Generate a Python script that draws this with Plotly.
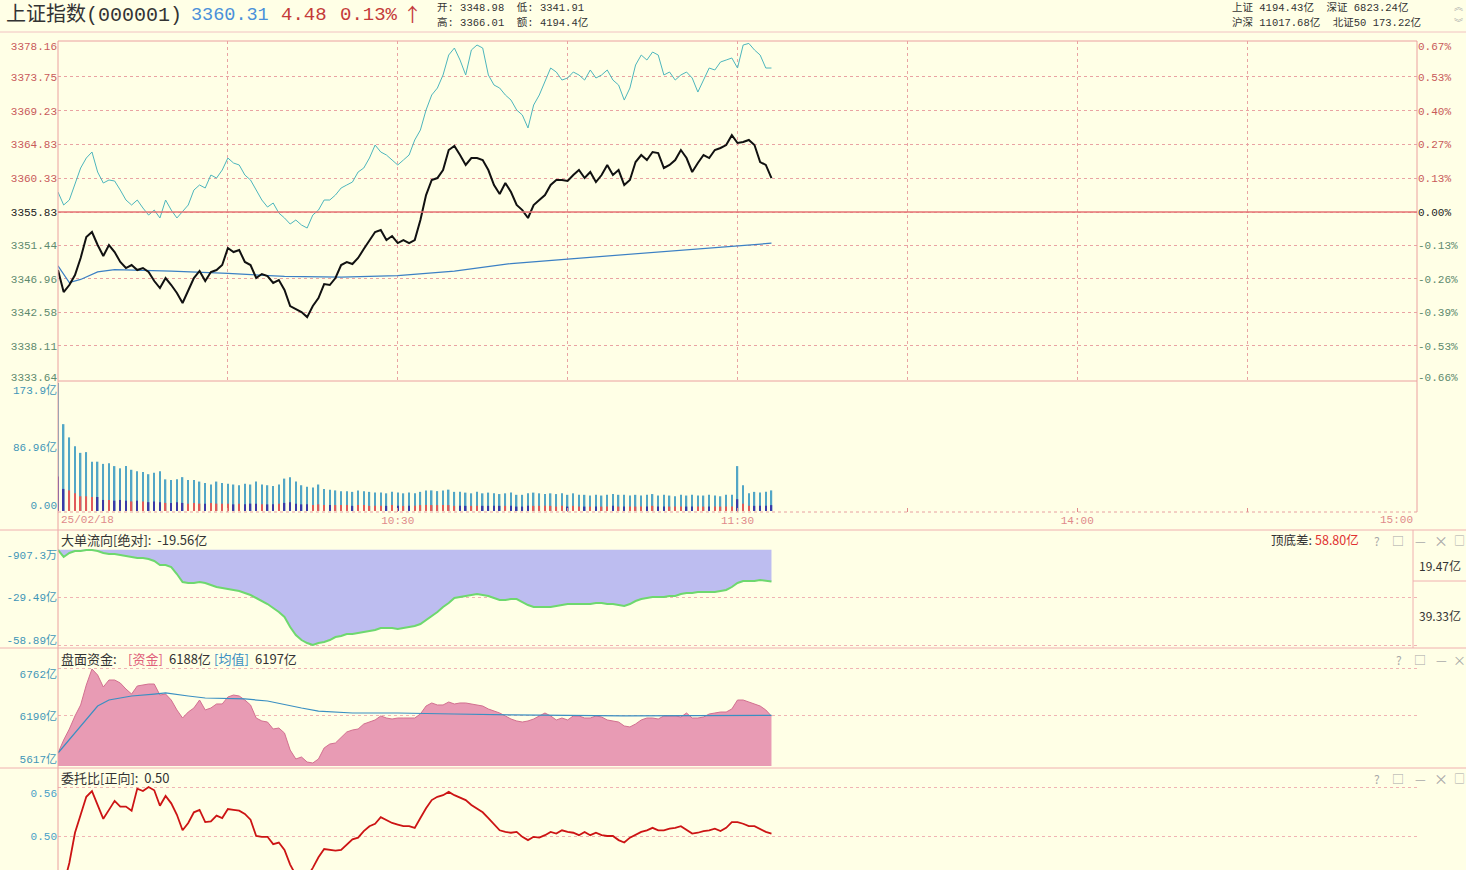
import plotly.graph_objects as go

W, H = 1466, 870
BG = '#FFFFE6'
MONO = 'Liberation Mono, Noto Sans CJK SC, monospace'
CJK = 'Noto Sans CJK SC, Liberation Mono, sans-serif'

# ------------------------------------------------------------------ data
prev_close = 3355.83

index_close = [
    3348.15, 3345.23, 3346.16, 3347.49, 3349.74, 3352.52, 3353.18, 3351.46, 3350.00, 3351.46,
    3350.53, 3349.21, 3348.41, 3348.81, 3348.15, 3348.41, 3347.88, 3346.69, 3345.76, 3347.09,
    3346.16, 3345.10, 3343.78, 3345.50, 3347.09, 3348.02, 3346.69, 3347.88, 3348.15, 3348.81,
    3351.06, 3350.53, 3350.80, 3349.21, 3348.81, 3347.09, 3347.62, 3347.35, 3346.43, 3346.82,
    3345.50, 3343.38, 3342.98, 3342.58, 3341.91, 3343.38, 3344.44, 3346.29, 3346.16, 3347.09,
    3348.81, 3349.21, 3348.94, 3349.74, 3350.93, 3352.12, 3353.18, 3353.45, 3352.12, 3352.65,
    3351.72, 3352.12, 3351.72, 3352.12, 3354.77, 3358.08, 3360.07, 3360.33, 3361.39, 3364.04,
    3364.57, 3363.38, 3362.06, 3362.98, 3362.98, 3362.72, 3361.39, 3359.41, 3358.21, 3359.67,
    3358.48, 3356.76, 3356.09, 3355.04, 3356.76, 3357.42, 3358.08, 3359.41, 3360.07, 3360.07,
    3359.94, 3360.73, 3361.39, 3360.33, 3361.13, 3359.80, 3360.73, 3362.06, 3360.73, 3361.39,
    3359.41, 3360.07, 3362.45, 3363.38, 3362.72, 3363.78, 3363.64, 3361.66, 3362.06, 3362.72,
    3364.04, 3362.98, 3361.13, 3362.32, 3363.38, 3362.98, 3364.04, 3364.31, 3364.70, 3366.01,
    3364.97, 3365.10, 3365.37, 3364.70, 3362.45, 3362.06, 3360.31]

leading_index = [
    3358.48, 3356.76, 3357.42, 3359.41, 3361.66, 3362.98, 3363.78, 3361.13, 3359.67, 3360.07,
    3359.94, 3358.74, 3357.42, 3356.76, 3357.42, 3356.36, 3355.43, 3356.09, 3355.04, 3357.42,
    3356.09, 3355.04, 3355.83, 3356.76, 3358.74, 3359.41, 3359.01, 3360.73, 3360.33, 3361.39,
    3362.98, 3362.32, 3362.06, 3360.73, 3360.07, 3358.74, 3357.42, 3356.49, 3357.02, 3355.70,
    3355.04, 3354.24, 3354.77, 3354.11, 3353.71, 3355.43, 3356.09, 3357.42, 3357.42, 3358.08,
    3359.01, 3359.41, 3359.80, 3361.13, 3361.66, 3362.98, 3364.70, 3363.78, 3363.38, 3362.72,
    3362.06, 3362.72, 3363.38, 3365.37, 3366.69, 3369.34, 3371.33, 3372.25, 3373.98, 3376.62,
    3377.55, 3375.96, 3373.98, 3377.29, 3377.95, 3377.55, 3373.98, 3372.65, 3372.25, 3371.33,
    3370.66, 3369.34, 3368.68, 3366.96, 3370.00, 3371.33, 3373.05, 3374.90, 3374.37, 3373.31,
    3373.58, 3374.37, 3373.98, 3373.31, 3374.64, 3373.58, 3373.98, 3374.64, 3373.31, 3372.65,
    3370.66, 3372.25, 3375.30, 3376.62, 3375.96, 3377.02, 3376.62, 3373.98, 3374.37, 3373.31,
    3373.98, 3374.37, 3373.58, 3371.72, 3373.31, 3374.90, 3374.64, 3375.70, 3375.96, 3376.23,
    3374.90, 3377.95, 3378.16, 3377.29, 3376.62, 3374.90, 3374.90]

avg_minutes = [0, 2, 4, 7, 10, 20, 30, 40, 50, 60, 70, 80, 90, 100, 110, 120, 126]
avg_price = [3348.70, 3346.50, 3346.90, 3347.90, 3348.20, 3348.00, 3347.70, 3347.30,
             3347.20, 3347.40, 3348.00, 3349.00, 3349.60, 3350.20, 3350.80, 3351.40, 3351.70]

volume = [
    173.9, 118, 100, 88, 79, 80, 67, 67, 64, 65,
    61, 58, 61, 56, 54, 53, 50, 52, 54, 43,
    42, 43, 46, 42, 42, 40, 38, 36, 40, 38,
    37, 36, 35, 37, 36, 40, 36, 35, 34, 36,
    44, 46, 40, 35, 33, 32, 36, 30, 29, 28,
    27, 27, 26, 28, 27, 26, 25, 25, 24, 26,
    25, 24, 25, 24, 26, 28, 28, 27, 28, 29,
    26, 26, 25, 24, 26, 24, 25, 24, 23, 24,
    25, 22, 22, 24, 25, 24, 23, 24, 23, 24,
    22, 24, 22, 22, 21, 22, 21, 22, 23, 22,
    22, 21, 22, 21, 22, 23, 21, 22, 21, 20,
    22, 21, 22, 21, 21, 22, 21, 20, 22, 22,
    61, 35, 24, 26, 25, 26, 28]

volume_part = [
    47, 30, 28, 24, 20, 20, 19, 19, 15, 15,
    14, 15, 14, 13, 14, 13, 12, 13, 12, 11,
    11, 12, 11, 10, 11, 10, 10, 11, 10, 10,
    10, 9, 10, 9, 10, 10, 9, 9, 9, 10,
    11, 12, 10, 9, 9, 8, 9, 8, 8, 8,
    8, 8, 7, 8, 8, 7, 7, 7, 7, 8,
    7, 7, 7, 7, 8, 8, 8, 8, 8, 8,
    7, 7, 7, 7, 7, 7, 7, 7, 7, 7,
    7, 6, 6, 7, 7, 7, 7, 7, 6, 7,
    6, 7, 6, 6, 6, 6, 6, 6, 7, 6,
    6, 6, 6, 6, 6, 7, 6, 6, 6, 6,
    6, 6, 6, 6, 6, 6, 6, 6, 6, 6,
    16, 10, 7, 7, 7, 7, 8]

big_order_flow = [
    -0.09, -4.42, -1.95, -0.71, -0.71, -0.09, -0.09, -0.71, -1.95, -2.57,
    -2.57, -3.19, -3.80, -4.42, -5.04, -5.04, -5.66, -6.90, -9.38, -9.38,
    -10.61, -14.95, -19.90, -20.52, -20.52, -19.90, -20.52, -21.76, -23.00, -23.61,
    -24.23, -24.85, -25.47, -26.71, -27.95, -29.80, -31.66, -33.52, -35.99, -38.47,
    -41.56, -47.75, -52.71, -55.80, -57.66, -58.89, -57.66, -57.04, -55.80, -53.94,
    -53.32, -52.09, -52.09, -51.47, -50.85, -50.23, -49.61, -48.37, -48.37, -48.37,
    -48.99, -48.37, -47.75, -47.13, -45.90, -43.42, -40.94, -38.47, -35.37, -32.90,
    -29.80, -29.18, -28.56, -27.95, -27.33, -27.95, -28.56, -29.80, -31.04, -31.04,
    -30.42, -30.42, -32.28, -34.14, -35.37, -35.37, -35.37, -35.37, -34.75, -34.14,
    -33.52, -33.52, -33.52, -33.52, -33.52, -32.90, -32.90, -33.52, -33.52, -34.14,
    -34.75, -33.52, -31.66, -30.42, -29.80, -29.18, -29.18, -29.18, -28.56, -28.56,
    -27.33, -26.71, -26.71, -26.09, -26.09, -26.09, -26.09, -25.47, -24.85, -23.00,
    -20.52, -19.28, -19.28, -19.28, -18.66, -19.28, -19.56]

capital = [
    5739, 5897, 6031, 6190, 6324, 6567, 6762, 6689, 6543, 6628,
    6628, 6591, 6518, 6457, 6555, 6567, 6579, 6579, 6445, 6457,
    6384, 6263, 6165, 6238, 6287, 6384, 6263, 6287, 6336, 6336,
    6421, 6445, 6433, 6384, 6324, 6165, 6129, 6116, 6031, 6043,
    5982, 5775, 5666, 5690, 5629, 5617, 5666, 5800, 5848, 5861,
    5922, 5995, 6019, 6031, 6092, 6116, 6141, 6190, 6165, 6153,
    6165, 6165, 6165, 6165, 6214, 6311, 6348, 6324, 6324, 6360,
    6336, 6348, 6348, 6336, 6324, 6311, 6275, 6250, 6226, 6190,
    6153, 6129, 6116, 6129, 6153, 6190, 6226, 6190, 6141, 6165,
    6141, 6190, 6190, 6165, 6165, 6190, 6177, 6141, 6129, 6116,
    6068, 6056, 6092, 6141, 6165, 6165, 6153, 6190, 6190, 6190,
    6177, 6226, 6165, 6165, 6177, 6214, 6226, 6238, 6238, 6275,
    6384, 6384, 6360, 6336, 6311, 6263, 6188]

capital_avg_minutes = [0, 3, 7, 9, 13, 17, 19, 23, 26, 33, 37, 43, 46, 52, 60, 70, 80, 100, 113, 126]
capital_avg = [5739, 5982, 6311, 6384, 6433, 6457, 6470, 6433, 6409, 6397,
               6372, 6287, 6250, 6226, 6226, 6214, 6202, 6190, 6190, 6197]

order_ratio = [
    0.420, 0.440, 0.467, 0.504, 0.526, 0.548, 0.555, 0.537, 0.521, 0.532,
    0.543, 0.536, 0.536, 0.531, 0.558, 0.555, 0.560, 0.556, 0.537, 0.549,
    0.540, 0.526, 0.507, 0.516, 0.529, 0.532, 0.517, 0.518, 0.525, 0.522,
    0.533, 0.532, 0.531, 0.527, 0.520, 0.500, 0.499, 0.499, 0.490, 0.492,
    0.483, 0.465, 0.452, 0.446, 0.450, 0.461, 0.474, 0.484, 0.483, 0.482,
    0.483, 0.490, 0.496, 0.498, 0.506, 0.512, 0.515, 0.523, 0.520, 0.516,
    0.514, 0.512, 0.512, 0.510, 0.522, 0.534, 0.544, 0.548, 0.550, 0.554,
    0.550, 0.547, 0.544, 0.538, 0.534, 0.529, 0.522, 0.514, 0.507, 0.505,
    0.504, 0.505, 0.499, 0.495, 0.499, 0.498, 0.501, 0.505, 0.503, 0.507,
    0.505, 0.504, 0.501, 0.505, 0.501, 0.504, 0.501, 0.500, 0.500, 0.495,
    0.492, 0.498, 0.501, 0.505, 0.507, 0.510, 0.507, 0.507, 0.509, 0.510,
    0.512, 0.507, 0.503, 0.504, 0.506, 0.507, 0.509, 0.506, 0.510, 0.517,
    0.517, 0.515, 0.512, 0.512, 0.509, 0.505, 0.503]

price_ticks = [3378.16, 3373.75, 3369.23, 3364.83, 3360.33, 3355.83,
               3351.44, 3346.96, 3342.58, 3338.11, 3333.64]
price_labels = ['3378.16', '3373.75', '3369.23', '3364.83', '3360.33', '3355.83',
                '3351.44', '3346.96', '3342.58', '3338.11', '3333.64']
pct_labels = ['0.67%', '0.53%', '0.40%', '0.27%', '0.13%', '0.00%',
              '-0.13%', '-0.26%', '-0.39%', '-0.53%', '-0.66%']
vol_ticks = [0, 86.96, 173.9]
vol_labels = ['0.00', '86.96亿', '173.9亿']
flow_ticks = [-0.09073, -29.49, -58.89]
flow_labels = ['-907.3万', '-29.49亿', '-58.89亿']
cap_ticks = [6762, 6190, 5617]
cap_labels = ['6762亿', '6190亿', '5617亿']
ratio_ticks = [0.56, 0.50]
ratio_labels = ['0.56', '0.50']
time_ticks = [30, 60, 90, 120, 150, 180, 210]
time_labels = ['', '10:30', '', '11:30', '', '14:00', '']

minutes = list(range(len(index_close)))

# ------------------------------------------------------------------ styling helpers
UP, FLAT, DOWN = '#C85A5A', '#222222', '#5E8A6E'
GRID = '#E9A3A3'
GRID2 = '#F0B4B4'
BORDER = '#EBA0A0'
TEAL = '#3F96B8'
DASH = '3px,3px'


def cspan(text, color):
    return f'<span style="color:{color}">{text}</span>'


def tone(v):
    if abs(v - prev_close) < 1e-6:
        return FLAT
    return UP if v > prev_close else DOWN


left_text = [cspan(t, tone(v)) for t, v in zip(price_labels, price_ticks)]
right_text = [cspan(t, tone(v)) for t, v in zip(pct_labels, price_ticks)]

bar_colors = ['#E05A5A' if i > 0 and index_close[i] >= index_close[i - 1] else '#3A3AA8'
              for i in range(len(index_close))]
bar_colors[0] = '#3A3AA8'


def dom(top, bottom):
    return [1 - bottom / H, 1 - top / H]


XD = [58 / W, 1417 / W]
PR = [3333.45, 3378.48]
VR = [-1.36, 175.26]
FR = [-59.51, 1.15]
CR = [5580.5, 6835]
RR = [0.45838, 0.56857]

fig = go.Figure()

# main price panel
fig.add_trace(go.Scatter(x=minutes, y=leading_index, mode='lines',
                         line=dict(color='#4DB6BD', width=1), xaxis='x', yaxis='y'))
fig.add_trace(go.Scatter(x=avg_minutes, y=avg_price, mode='lines',
                         line=dict(color='#3C80C4', width=1.2), xaxis='x', yaxis='y'))
fig.add_trace(go.Scatter(x=minutes, y=index_close, mode='lines',
                         line=dict(color='#111111', width=2), xaxis='x', yaxis='y'))
# invisible anchor so the right-hand percentage axis is drawn
fig.add_trace(go.Scatter(x=[0], y=[prev_close], mode='markers', marker=dict(opacity=0),
                         xaxis='x', yaxis='y2', hoverinfo='skip'))

# volume panel
fig.add_trace(go.Bar(x=minutes, y=volume, width=0.26, marker=dict(color='#52A6C6', line=dict(width=0)),
                     xaxis='x2', yaxis='y3'))
fig.add_trace(go.Bar(x=minutes, y=volume_part, width=0.26, marker=dict(color=bar_colors, line=dict(width=0)),
                     xaxis='x2', yaxis='y3'))

# big-order flow panel
fig.add_trace(go.Scatter(x=minutes, y=big_order_flow, mode='lines', fill='tozeroy',
                         fillcolor='#BDBDF0', line=dict(color='#6ED86E', width=2),
                         xaxis='x3', yaxis='y4'))

# capital panel
fig.add_trace(go.Scatter(x=minutes, y=capital, mode='lines', fill='tozeroy',
                         fillcolor='#E89BB4', line=dict(color='#D27090', width=1),
                         xaxis='x4', yaxis='y5'))
fig.add_trace(go.Scatter(x=capital_avg_minutes, y=capital_avg, mode='lines',
                         line=dict(color='#3A8FC2', width=1.2), xaxis='x4', yaxis='y5'))

# order ratio panel
fig.add_trace(go.Scatter(x=minutes, y=order_ratio, mode='lines',
                         line=dict(color='#CC1414', width=1.8), xaxis='x5', yaxis='y6'))

tickfont = dict(family=MONO, size=11)
base_x = dict(domain=XD, range=[0, 240], zeroline=False, showline=False, showgrid=False,
              showticklabels=False, ticks='', fixedrange=True)
base_y = dict(zeroline=False, showline=False, ticks='', fixedrange=True, tickfont=tickfont)

layout = dict(
    width=W, height=H, margin=dict(l=0, r=0, t=0, b=0),
    paper_bgcolor=BG, plot_bgcolor=BG, showlegend=False, template='none',
    barmode='overlay', hovermode=False,
    xaxis=dict(base_x, anchor='y', tickvals=time_ticks, showgrid=True, gridcolor=GRID,
               griddash=DASH, gridwidth=1),
    yaxis=dict(base_y, domain=dom(41, 381), anchor='x', range=PR, tickvals=price_ticks[1:-1],
               ticktext=left_text[1:-1], showgrid=True, gridcolor=GRID, griddash=DASH),
    yaxis2=dict(base_y, overlaying='y', side='right', anchor='x', range=PR,
                tickvals=price_ticks[1:-1], ticktext=right_text[1:-1], showgrid=False),
    xaxis2=dict(base_x, anchor='y3', tickvals=time_ticks, ticktext=time_labels,
                showticklabels=True, ticks='inside', ticklen=4, tickcolor='#E08A8A',
                tickfont=dict(family=MONO, size=11, color='#E08A8A')),
    yaxis3=dict(base_y, domain=dom(382, 512), anchor='x2', range=VR,
                tickvals=vol_ticks[1:2], ticktext=vol_labels[1:2], showgrid=False,
                tickfont=dict(family=MONO, size=11, color=TEAL)),
    xaxis3=dict(base_x, anchor='y4'),
    yaxis4=dict(base_y, domain=dom(548, 646), anchor='x3', range=FR,
                tickvals=flow_ticks[1:], ticktext=[flow_labels[1], ''], showgrid=True,
                gridcolor=GRID2, griddash=DASH, tickfont=dict(family=MONO, size=11, color=TEAL)),
    xaxis4=dict(base_x, anchor='y5'),
    yaxis5=dict(base_y, domain=dom(663, 766), anchor='x4', range=CR,
                tickvals=cap_ticks[:2], ticktext=['', cap_labels[1]], showgrid=True,
                gridcolor=GRID2, griddash=DASH, tickfont=dict(family=MONO, size=11, color=TEAL)),
    xaxis5=dict(base_x, anchor='y6'),
    yaxis6=dict(base_y, domain=[0, 1 - 780 / H], anchor='x5', range=RR,
                tickvals=ratio_ticks, ticktext=['', ratio_labels[1]], showgrid=True,
                gridcolor=GRID2, griddash=DASH, tickfont=dict(family=MONO, size=11, color='#4AA0C8')),
)

# end labels pulled inward (as the terminal draws them), one overlay axis per label
# (positive shift moves a y tick label down on screen)
edge_labels = [
    # (over, x-anchor, side, range, value, text, shift, color)
    ('y', 'x', 'left', PR, price_ticks[0], left_text[0], 3, None),
    ('y', 'x', 'left', PR, price_ticks[-1], left_text[-1], -2, None),
    ('y', 'x', 'right', PR, price_ticks[0], right_text[0], 3, None),
    ('y', 'x', 'right', PR, price_ticks[-1], right_text[-1], -2, None),
    ('y3', 'x2', 'left', VR, vol_ticks[2], vol_labels[2], 7, TEAL),
    ('y3', 'x2', 'left', VR, vol_ticks[0], vol_labels[0], -6, TEAL),
    ('y4', 'x3', 'left', FR, flow_ticks[0], flow_labels[0], 5, TEAL),
    ('y4', 'x3', 'left', FR, flow_ticks[2], flow_labels[2], -5, TEAL),
    ('y5', 'x4', 'left', CR, cap_ticks[0], cap_labels[0], 5, TEAL),
    ('y5', 'x4', 'left', CR, cap_ticks[2], cap_labels[2], -4, TEAL),
    ('y6', 'x5', 'left', RR, ratio_ticks[0], ratio_labels[0], 6, '#4AA0C8'),
]
for k, (over, xa, side, rng, val, txt, shift, col) in enumerate(edge_labels):
    name = f'y{7 + k}'
    font = dict(family=MONO, size=11)
    if col:
        font['color'] = col
    layout[f'yaxis{7 + k}'] = dict(base_y, overlaying=over, anchor=xa, side=side, range=rng,
                                   tickvals=[val], ticktext=[txt], ticklabelshift=shift,
                                   showgrid=False, tickfont=font)
    fig.add_trace(go.Scatter(x=[0], y=[val], mode='markers', marker=dict(opacity=0),
                             xaxis=xa, yaxis=name, hoverinfo='skip'))

fig.update_layout(**layout)


# ------------------------------------------------------------------ frame lines
def pline(x0, y0, x1, y1, color=BORDER, width=1, dash='solid'):
    return dict(type='line', xref='paper', yref='paper', x0=x0 / W, x1=x1 / W,
                y0=1 - y0 / H, y1=1 - y1 / H, line=dict(color=color, width=width, dash=dash),
                layer='above')


shapes = [
    pline(0, 32, W, 32, '#F1C2C2'),
    pline(58, 41, 1417, 41),
    pline(58, 381, 1417, 381),
    pline(1417, 41, 1417, 512),
    pline(58, 41, 58, 870),
    pline(58, 512, 1417, 512, '#E8A0A0', 1, 'dot'),
    pline(0, 530, W, 530, '#F0B0B0'),
    pline(1413, 530, 1413, 648, '#F0B0B0'),
    pline(1413, 581, W, 581, '#F0B0B0'),
    pline(0, 648, W, 648, '#F0B0B0'),
    pline(0, 768, W, 768, '#F0B0B0'),
    dict(type='line', xref='x', yref='y', x0=0, x1=240, y0=prev_close, y1=prev_close,
         line=dict(color='#E57373', width=1.5), layer='above'),
]
fig.update_layout(shapes=shapes)


# ------------------------------------------------------------------ texts
def ann(x, y, text, color='#333333', size=11, family=MONO, anchor='left'):
    return dict(x=x / W, y=1 - y / H, xref='paper', yref='paper', text=text, showarrow=False,
                xanchor=anchor, yanchor='middle', font=dict(color=color, size=size, family=family))


ICON = '#A8A8A8'
annotations = [
    ann(4, 15, '上证指数(000001)', '#333333', 20, 'Liberation Mono, Noto Sans CJK SC'),
    ann(189, 15, '3360.31', '#4A90DA', 18.5),
    ann(279, 15, '4.48', '#C43A3A', 19),
    ann(338, 15, '0.13%', '#C43A3A', 19),
    ann(401, 14, '↑', '#C43A3A', 19, CJK),
    ann(435, 8, '开: 3348.98  低: 3341.91', '#333333', 10.5),
    ann(435, 22, '高: 3366.01  额: 4194.4亿', '#333333', 10.5),
    ann(1230, 8, '上证 4194.43亿  深证 6823.24亿', '#333333', 10.5),
    ann(1230, 22, '沪深 11017.68亿  北证50 173.22亿', '#333333', 10.5),
    ann(1458, 7, '︽', ICON, 9, CJK, 'center'),
    ann(1458, 22, '︾', ICON, 9, CJK, 'center'),
    ann(59, 520, '25/02/18', '#E08A8A', 11),
    ann(1415, 520, '15:00', '#E08A8A', 11, MONO, 'right'),
    # panel 2
    ann(59, 539, '大单流向[绝对]:  -19.56亿', '#333333', 13, CJK),
    ann(1269, 539, '顶底差:', '#333333', 12.5, CJK),
    ann(1313, 539, '58.80亿', '#E03030', 12.5, CJK),
    ann(1417, 565, '19.47亿', '#333333', 12, CJK),
    ann(1417, 615, '39.33亿', '#333333', 12, CJK),
    ann(1377, 540, '?', ICON, 12, CJK, 'center'),
    ann(1398, 540, '□', ICON, 12, CJK, 'center'),
    ann(1420, 540, '—', ICON, 12, CJK, 'center'),
    ann(1441, 540, '×', ICON, 14, CJK, 'center'),
    ann(1459, 540, '□', ICON, 11, CJK, 'center'),
    # panel 3
    ann(59, 658, '盘面资金:', '#333333', 13, CJK),
    ann(126, 658, '[资金]', '#E0607A', 13, CJK),
    ann(167, 658, '6188亿', '#333333', 13, CJK),
    ann(212, 658, '[均值]', '#3A8FC2', 13, CJK),
    ann(253, 658, '6197亿', '#333333', 13, CJK),
    ann(1399, 659, '?', ICON, 12, CJK, 'center'),
    ann(1420, 659, '□', ICON, 12, CJK, 'center'),
    ann(1441, 659, '—', ICON, 12, CJK, 'center'),
    ann(1459, 659, '×', ICON, 13, CJK, 'center'),
    # panel 4
    ann(59, 777, '委托比[正向]:  0.50', '#333333', 13, CJK),
    ann(1377, 778, '?', ICON, 12, CJK, 'center'),
    ann(1398, 778, '□', ICON, 12, CJK, 'center'),
    ann(1420, 778, '—', ICON, 12, CJK, 'center'),
    ann(1441, 778, '×', ICON, 14, CJK, 'center'),
    ann(1459, 778, '□', ICON, 11, CJK, 'center'),
]
fig.update_layout(annotations=annotations)

fig.write_html('out.html')
